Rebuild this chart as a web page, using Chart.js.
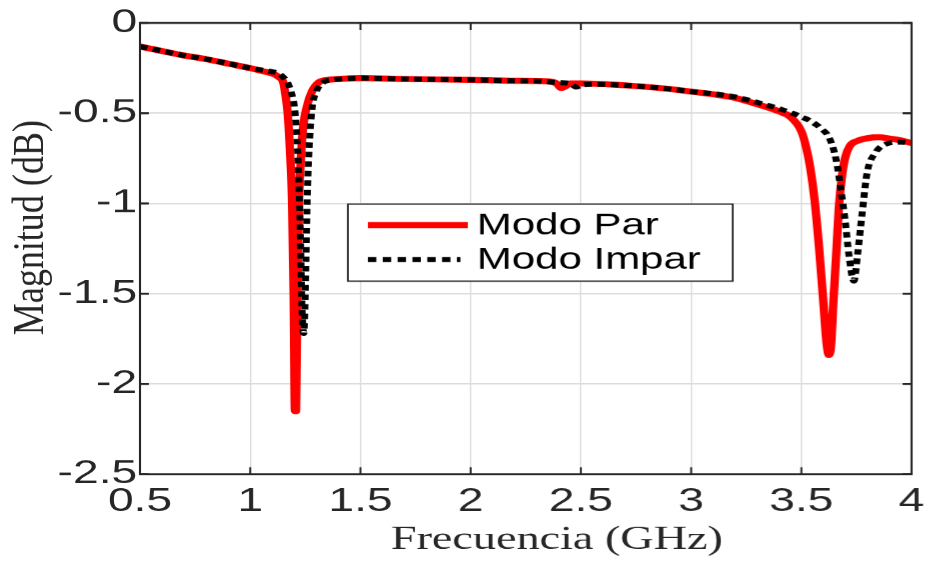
<!DOCTYPE html>
<html>
<head>
<meta charset="utf-8">
<script src="https://cdn.jsdelivr.net/npm/chart.js@4/dist/chart.umd.min.js"></script>
<style>
  html, body { margin: 0; padding: 0; background: #ffffff; overflow: hidden; }
  #wrap { position: absolute; left: 0; top: 0; width: 664.3px; height: 561px; transform: scale(1.4, 1); transform-origin: 0 0; }
</style>
</head>
<body>
<div id="wrap"><canvas id="c"></canvas></div>
<script>
// ---- data ----
const xPar = [0.5,0.6,0.7,0.8,0.9,1.0,1.05,1.1,1.13,1.15,1.16,1.17,1.18,1.19,1.197,1.203,1.208,1.213,1.22,1.23,1.24,1.26,1.28,1.31,1.35,1.4,1.5,1.7,2.0,2.2,2.35,2.39,2.41,2.43,2.45,2.5,2.7,2.9,3.0,3.1,3.2,3.3,3.4,3.45,3.5,3.52,3.54,3.56,3.58,3.6,3.615,3.625,3.635,3.645,3.66,3.67,3.685,3.7,3.72,3.75,3.8,3.85,3.9,3.95,4.0];
const yPar = [-0.13,-0.155,-0.18,-0.2,-0.225,-0.25,-0.265,-0.28,-0.3,-0.33,-0.4,-0.5,-0.7,-1.0,-1.5,-2.15,-2.15,-1.6,-1.05,-0.75,-0.58,-0.45,-0.38,-0.33,-0.315,-0.31,-0.305,-0.31,-0.315,-0.32,-0.323,-0.335,-0.36,-0.35,-0.335,-0.335,-0.345,-0.365,-0.38,-0.395,-0.415,-0.45,-0.49,-0.52,-0.6,-0.68,-0.8,-0.98,-1.24,-1.55,-1.78,-1.84,-1.78,-1.55,-1.24,-1.02,-0.84,-0.74,-0.68,-0.655,-0.638,-0.633,-0.64,-0.65,-0.665];

const xImpar = [0.5,0.6,0.7,0.8,0.9,1.0,1.05,1.1,1.13,1.15,1.17,1.19,1.2,1.21,1.22,1.228,1.235,1.243,1.248,1.253,1.258,1.265,1.28,1.3,1.33,1.37,1.42,1.5,1.7,2.0,2.2,2.3,2.4,2.45,2.48,2.5,2.55,2.7,2.9,3.0,3.1,3.2,3.3,3.4,3.46,3.5,3.537,3.59,3.628,3.658,3.68,3.7,3.715,3.738,3.755,3.775,3.798,3.835,3.89,3.95,4.0];
const yImpar = [-0.13,-0.155,-0.18,-0.2,-0.225,-0.25,-0.26,-0.27,-0.28,-0.3,-0.33,-0.4,-0.46,-0.6,-0.85,-1.2,-1.58,-1.72,-1.58,-1.3,-1.0,-0.75,-0.48,-0.38,-0.33,-0.315,-0.31,-0.305,-0.31,-0.315,-0.32,-0.322,-0.33,-0.335,-0.355,-0.345,-0.34,-0.345,-0.365,-0.38,-0.392,-0.41,-0.44,-0.475,-0.5,-0.52,-0.54,-0.585,-0.64,-0.76,-0.93,-1.11,-1.28,-1.43,-1.28,-1.06,-0.83,-0.72,-0.668,-0.66,-0.665];

const seriesNames = ['Modo Par', 'Modo Impar'];
const xTicks = [0.5, 1, 1.5, 2, 2.5, 3, 3.5, 4];
const xTickLabels = ['0.5', '1', '1.5', '2', '2.5', '3', '3.5', '4'];
const yTicks = [-2.5, -2, -1.5, -1, -0.5, 0];
const yTickLabels = ['-2.5', '-2', '-1.5', '-1', '-0.5', '0'];
const xTitle = 'Frecuencia (GHz)';
const yTitle = 'Magnitud (dB)';

// ---- styling ----
const AX = '#262626';
const SANS = '"Liberation Sans", Arial, sans-serif';
const SERIF = '"Liberation Serif", "Times New Roman", serif';

const framePlugin = {
  id: 'frame',
  afterDraw(chart) {
    const { ctx, chartArea: { left, right, top, bottom }, scales: { x, y } } = chart;
    ctx.save();
    ctx.strokeStyle = AX;
    // inward ticks
    ctx.lineWidth = 1.4;
    xTicks.forEach(v => {
      const px = x.getPixelForValue(v);
      ctx.beginPath();
      ctx.moveTo(px, bottom); ctx.lineTo(px, bottom - 7);
      ctx.moveTo(px, top); ctx.lineTo(px, top + 7);
      ctx.stroke();
    });
    ctx.lineWidth = 2;
    yTicks.forEach(v => {
      const py = y.getPixelForValue(v);
      ctx.beginPath();
      ctx.moveTo(left, py); ctx.lineTo(left + 6.4, py);
      ctx.moveTo(right, py); ctx.lineTo(right - 6.4, py);
      ctx.stroke();
    });
    // box
    ctx.lineWidth = 1.5;
    ctx.beginPath();
    ctx.moveTo(left, top - 1); ctx.lineTo(left, bottom + 1);
    ctx.moveTo(right, top - 1); ctx.lineTo(right, bottom + 1);
    ctx.stroke();
    ctx.lineWidth = 2;
    ctx.beginPath();
    ctx.moveTo(left, top); ctx.lineTo(right, top);
    ctx.moveTo(left, bottom); ctx.lineTo(right, bottom);
    ctx.stroke();

    // legend
    const lx = 248.6, ly = 204, lw = 275, lh = 77;
    ctx.fillStyle = '#ffffff';
    ctx.fillRect(lx, ly, lw, lh);
    ctx.lineWidth = 1.3;
    ctx.strokeStyle = AX;
    ctx.strokeRect(lx, ly, lw, lh);
    const ds = chart.data.datasets;
    const rows = [225, 259.5];
    const order = seriesNames.map(n => ds.find(d => d.label === n));
    order.forEach((d, i) => {
      ctx.save();
      ctx.strokeStyle = d.borderColor;
      ctx.lineWidth = d.borderWidth;
      ctx.lineCap = 'butt';
      if (d.borderDash) ctx.setLineDash([6, 4.6]);
      ctx.beginPath();
      ctx.moveTo(262.9, rows[i]);
      ctx.lineTo(d.borderDash ? 329 : 334.3, rows[i]);
      ctx.stroke();
      ctx.restore();
      ctx.fillStyle = '#000000';
      ctx.font = '30px ' + SANS;
      ctx.textAlign = 'left';
      ctx.textBaseline = 'middle';
      ctx.fillText(d.label, 340.7, rows[i] + 1);
    });

    // axis titles
    ctx.fillStyle = AX;
    ctx.font = '33px ' + SERIF;
    ctx.textAlign = 'center';
    ctx.textBaseline = 'alphabetic';
    ctx.fillText(xTitle, 397.9, 548.5);

    ctx.save();
    ctx.translate(30.9, 227.5);
    ctx.scale(0.9, 1);
    ctx.rotate(-Math.PI / 2);
    ctx.font = '36px ' + SERIF;
    ctx.textAlign = 'center';
    ctx.textBaseline = 'alphabetic';
    ctx.fillText(yTitle, 0, 0);
    ctx.restore();

    ctx.restore();
  }
};

new Chart(document.getElementById('c'), {
  type: 'line',
  data: {
    datasets: [
      {
        label: seriesNames[0],
        data: xPar.map((v, i) => ({ x: v, y: yPar[i] })),
        borderColor: '#ff0000',
        borderWidth: 6,
        pointRadius: 0,
        borderJoinStyle: 'round',
        cubicInterpolationMode: 'monotone',
        order: 2
      },
      {
        label: seriesNames[1],
        data: xImpar.map((v, i) => ({ x: v, y: yImpar[i] })),
        borderColor: '#000000',
        borderWidth: 5,
        borderDash: [5.5, 4],
        borderCapStyle: 'butt',
        pointRadius: 0,
        cubicInterpolationMode: 'monotone',
        order: 1
      }
    ]
  },
  options: {
    responsive: true,
    maintainAspectRatio: false,
    devicePixelRatio: 1.4,
    animation: false,
    events: [],
    layout: { padding: { top: 23, right: 12.9, left: 0, bottom: 0 } },
    plugins: { legend: { display: false }, tooltip: { enabled: false } },
    scales: {
      x: {
        type: 'linear',
        min: 0.5,
        max: 4,
        afterBuildTicks: s => { s.ticks = xTicks.map(v => ({ value: v })); },
        afterFit: s => { s.height = 87; s.paddingLeft = 0; s.paddingRight = 0; },
        ticks: {
          autoSkip: false,
          maxRotation: 0,
          padding: 8,
          color: AX,
          font: { family: SANS, size: 33 },
          callback: (v, i) => xTickLabels[i]
        },
        grid: { color: '#dcdcdc', lineWidth: 1, drawTicks: false },
        border: { display: false }
      },
      y: {
        type: 'linear',
        min: -2.5,
        max: 0,
        afterBuildTicks: s => { s.ticks = yTicks.map(v => ({ value: v })); },
        afterFit: s => { s.width = 100; s.paddingTop = 0; s.paddingBottom = 0; },
        ticks: {
          autoSkip: false,
          padding: 2,
          color: AX,
          font: { family: SANS, size: 33 },
          callback: (v, i) => yTickLabels[i]
        },
        grid: { color: '#dcdcdc', lineWidth: 1.5, drawTicks: false },
        border: { display: false }
      }
    }
  },
  plugins: [framePlugin]
});
</script>
</body>
</html>
